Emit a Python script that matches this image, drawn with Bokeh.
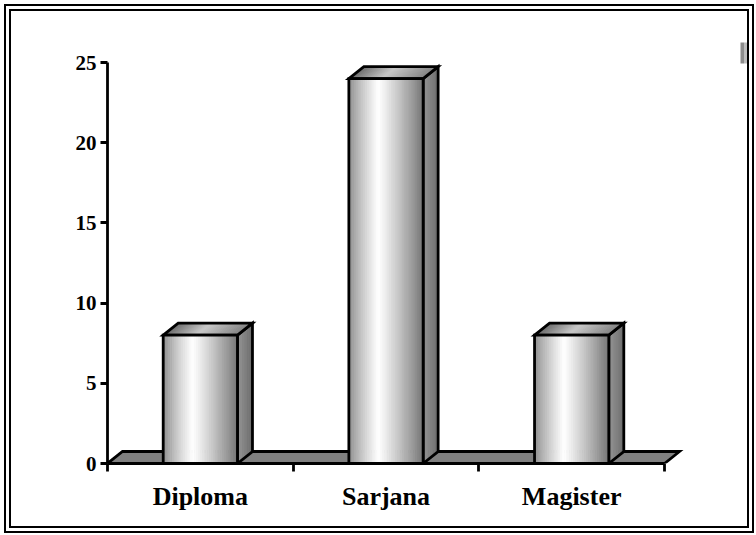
import numpy as np
from bokeh.plotting import figure
from bokeh.models import ColumnDataSource, FixedTicker, Range1d
from bokeh.embed import file_html
from bokeh.resources import INLINE

categories = ["Diploma", "Sarjana", "Magister"]
values = [8, 24, 8]
y_ticks = [0, 5, 10, 15, 20, 25]

# layout constants (pixels / data units)
PX_X = 185.67   # px per category unit
PX_Y = 16.04    # px per value unit
W, H = 736, 515
BW = 7                      # css border width
CW, CH = W + 2 * BW, H + 2 * BW   # effective canvas size
ML, MR, MT, MB = 96, 14, 20, 77
DX, DY = 15 / PX_X, 12 / PX_Y   # 3D depth offset
BAR_W = 0.4
OUT = "black"
LW = 2.8

p = figure(width=W, height=H, output_backend="svg", toolbar_location=None,
           x_range=Range1d(0, (CW - ML - MR) / PX_X),
           y_range=Range1d(0, (CH - MT - MB) / PX_Y),
           min_border_left=ML, min_border_right=MR, min_border_top=MT, min_border_bottom=MB)
p.styles = {"border": "%dpx double black" % BW, "box-sizing": "content-box", "margin": "4px 0 0 4px"}
p.xgrid.visible = False
p.ygrid.visible = False
p.outline_line_color = None
p.background_fill_color = "white"
p.border_fill_color = "white"


def grey(v):
    v = int(max(0, min(255, round(v))))
    return "#%02x%02x%02x" % (v, v, v)


def front_shade(t):
    if t < 0.4:
        return 135 + (255 - 135) * (t / 0.4) ** 0.8
    return 255 - (255 - 120) * ((t - 0.4) / 0.6) ** 1.1


def top_shade(t):
    if t < 0.45:
        return 105 + (200 - 105) * (t / 0.45)
    return 200 - (200 - 130) * ((t - 0.45) / 0.55)


# floor
n_cat = len(categories)
p.patch([0, n_cat, n_cat + DX, DX], [0, 0, DY, DY], fill_color="#808080",
        line_color=OUT, line_width=LW, line_join="miter")

NS = 40
for i, v in enumerate(values):
    x0 = i + 0.5 - BAR_W / 2
    x1 = i + 0.5 + BAR_W / 2
    # side face
    side_n = 6
    sx, sy, sc = [], [], []
    for k in range(side_n):
        a = k / side_n
        b = (k + 1) / side_n
        sx.append([x1 + a * DX, x1 + b * DX, x1 + b * DX, x1 + a * DX])
        sy.append([a * DY, b * DY, v + b * DY, v + a * DY])
        sc.append(grey(150 - 40 * (k + 0.5) / side_n))
    p.patches(xs=sx, ys=sy, fill_color=sc, line_color=sc, line_width=1)
    p.patch([x1, x1 + DX, x1 + DX, x1], [0, DY, v + DY, v], fill_color=None,
            line_color=OUT, line_width=LW, line_join="miter")
    # top face
    tx, ty, tc = [], [], []
    for k in range(NS):
        a = x0 + (x1 - x0) * k / NS
        b = x0 + (x1 - x0) * (k + 1) / NS
        tx.append([a, b, b + DX, a + DX])
        ty.append([v, v, v + DY, v + DY])
        tc.append(grey(top_shade((k + 0.5) / NS)))
    p.patches(xs=tx, ys=ty, fill_color=tc, line_color=tc, line_width=1)
    p.patch([x0, x1, x1 + DX, x0 + DX], [v, v, v + DY, v + DY], fill_color=None,
            line_color=OUT, line_width=LW, line_join="miter")
    # front face
    ls, rs, cs = [], [], []
    for k in range(NS):
        ls.append(x0 + (x1 - x0) * k / NS)
        rs.append(x0 + (x1 - x0) * (k + 1) / NS)
        cs.append(grey(front_shade((k + 0.5) / NS)))
    src = ColumnDataSource(dict(left=ls, right=rs, top=[v] * NS, bottom=[0] * NS, c=cs))
    p.quad(left="left", right="right", top="top", bottom="bottom", source=src,
           fill_color="c", line_color="c", line_width=1)
    p.quad(left=[x0], right=[x1], top=[v], bottom=[0], fill_color=None,
           line_color=OUT, line_width=LW, line_join="miter")

# clipped legend remnant at top right
fw = CW - ML - MR
lx0 = (fw - 7) / PX_X
lx1 = fw / PX_X
ly0 = 24.94
ly1 = 26.25
p.quad(left=[lx0, lx0 + (lx1 - lx0) / 2], right=[lx0 + (lx1 - lx0) / 2, lx1],
       top=[ly1, ly1], bottom=[ly0, ly0], fill_color=["#8c8c8c", "#bdbdbd"], line_color=None)

# y axis
ya = p.yaxis[0]
ya.ticker = FixedTicker(ticks=y_ticks)
ya.bounds = (0, 25)
ya.axis_line_width = LW
ya.axis_line_color = OUT
ya.major_tick_in = 0
ya.major_tick_out = 7
ya.major_tick_line_width = LW
ya.minor_tick_line_color = None
ya.major_label_standoff = 4
ya.major_label_text_font = "Liberation Serif"
ya.major_label_text_font_style = "bold"
ya.major_label_text_font_size = "21px"
ya.major_label_text_color = "black"

# x axis
xa = p.xaxis[0]
centers = [i + 0.5 for i in range(n_cat)]
xa.ticker = FixedTicker(ticks=centers, minor_ticks=list(range(n_cat + 1)))
xa.bounds = (0, n_cat)
xa.major_label_overrides = {c: name for c, name in zip(centers, categories)}
xa.axis_line_width = LW
xa.axis_line_color = OUT
xa.major_tick_line_color = None
xa.major_tick_in = 0
xa.major_tick_out = 8
xa.minor_tick_in = 0
xa.minor_tick_out = 8
xa.minor_tick_line_width = LW
xa.minor_tick_line_color = OUT
xa.major_label_standoff = 10
xa.major_label_text_font = "Liberation Serif"
xa.major_label_text_font_style = "bold"
xa.major_label_text_font_size = "26px"
xa.major_label_text_color = "black"

open("out.html", "w").write(file_html(p, INLINE))
